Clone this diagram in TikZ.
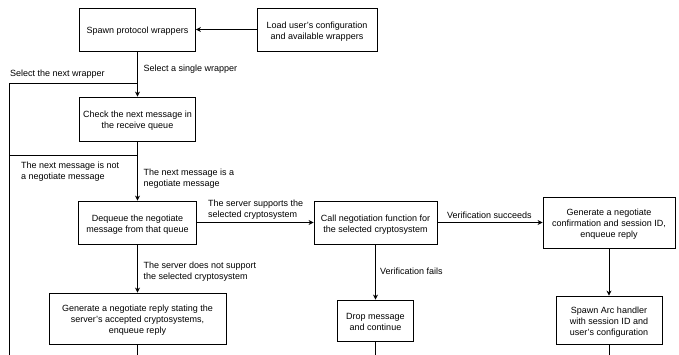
\documentclass[tikz,border=0pt]{standalone}
\usepackage{fontspec}
\setmainfont{Liberation Sans}
\usetikzlibrary{arrows.meta}
\newcommand\tdown{\rule{0pt}{10pt}}
\begin{document}
\begin{tikzpicture}[x=1pt,y=-1pt,
  every node/.style={font=\fontsize{9}{11}\selectfont},
  box/.style={draw=black, line width=0.8pt, rectangle, align=center, inner sep=0pt},
  lbl/.style={align=left, anchor=west, inner sep=0pt},
  conn/.style={draw=black, line width=0.8pt},
  arr/.style={conn, -{Stealth[length=5pt,width=5pt]}}]
\useasboundingbox (0,0) rectangle (679,355);
\node[box, minimum width=116pt, minimum height=43pt] (b1) at (137.5,29.5) {\tdown Spawn protocol wrappers};
\node[box, minimum width=120pt, minimum height=43pt] (b2) at (317,29.5) {\tdown Load user's configuration\\and available wrappers};
\node[box, minimum width=116pt, minimum height=44pt] (b3) at (137.5,119) {\tdown Check the next message in\\the receive queue};
\node[box, minimum width=118pt, minimum height=43pt] (b4) at (137.5,222.5) {\tdown Dequeue the negotiate\\message from that queue};
\node[box, minimum width=123pt, minimum height=43pt] (b5) at (375.5,222.5) {\tdown Call negotiation function for\\the selected cryptosystem};
\node[box, minimum width=132pt, minimum height=51pt] (b6) at (609,222.5) {\tdown Generate a negotiate\\confirmation and session ID,\\enqueue reply};
\node[box, minimum width=76pt, minimum height=41pt] (b7) at (375.5,320.5) {\tdown Drop message\\and continue};
\node[box, minimum width=106pt, minimum height=48pt] (b8) at (609,320) {\tdown Spawn Arc handler\\with session ID and\\user's configuration};
\node[box, minimum width=177pt, minimum height=51pt] (b9) at (137.5,318.5) {\tdown Generate a negotiate reply stating the\\server's accepted cryptosystems,\\enqueue reply};
% labels
\node[lbl] (l1) at (143.5,69.5) {Select a single wrapper};
\node[lbl] (l2) at (10,74.5) {Select the next wrapper};
\node[lbl] (l3) at (21,171.5) {The next message is not\\a negotiate message};
\node[lbl] (l4) at (143.5,178.5) {The next message is a\\negotiate message};
\node[lbl] (l5) at (208,209.5) {The server supports the\\selected cryptosystem};
\node[lbl] (l6) at (447,215) {Verification succeeds};
\node[lbl] (l7) at (143.5,272) {The server does not support\\the selected cryptosystem};
\node[lbl] (l8) at (380,271) {Verification fails};
% coordinates
\coordinate (j1) at (137.5,83);
\coordinate (j2) at (137.5,155);
\coordinate (k1) at (9,83);
\coordinate (k2) at (9,155);
\coordinate (kb) at (9,355);
\coordinate (e9) at (137.5,355);
\coordinate (e7) at (375.5,355);
\coordinate (e8) at (609,355);
% connectors
\draw[arr] (b2) -- (b1);
\draw[arr] (b1) -- (b3);
\draw[arr] (b3) -- (b4);
\draw[arr] (b4) -- (b5);
\draw[arr] (b5) -- (b6);
\draw[arr] (b5) -- (b7);
\draw[arr] (b6) -- (b8);
\draw[arr] (b4) -- (b9);
\draw[conn] (kb) -- (k1) -- (j1);
\draw[conn] (k2) -- (j2);
\draw[conn] (b9) -- (e9);
\draw[conn] (b7) -- (e7);
\draw[conn] (b8) -- (e8);
\end{tikzpicture}
\end{document}
